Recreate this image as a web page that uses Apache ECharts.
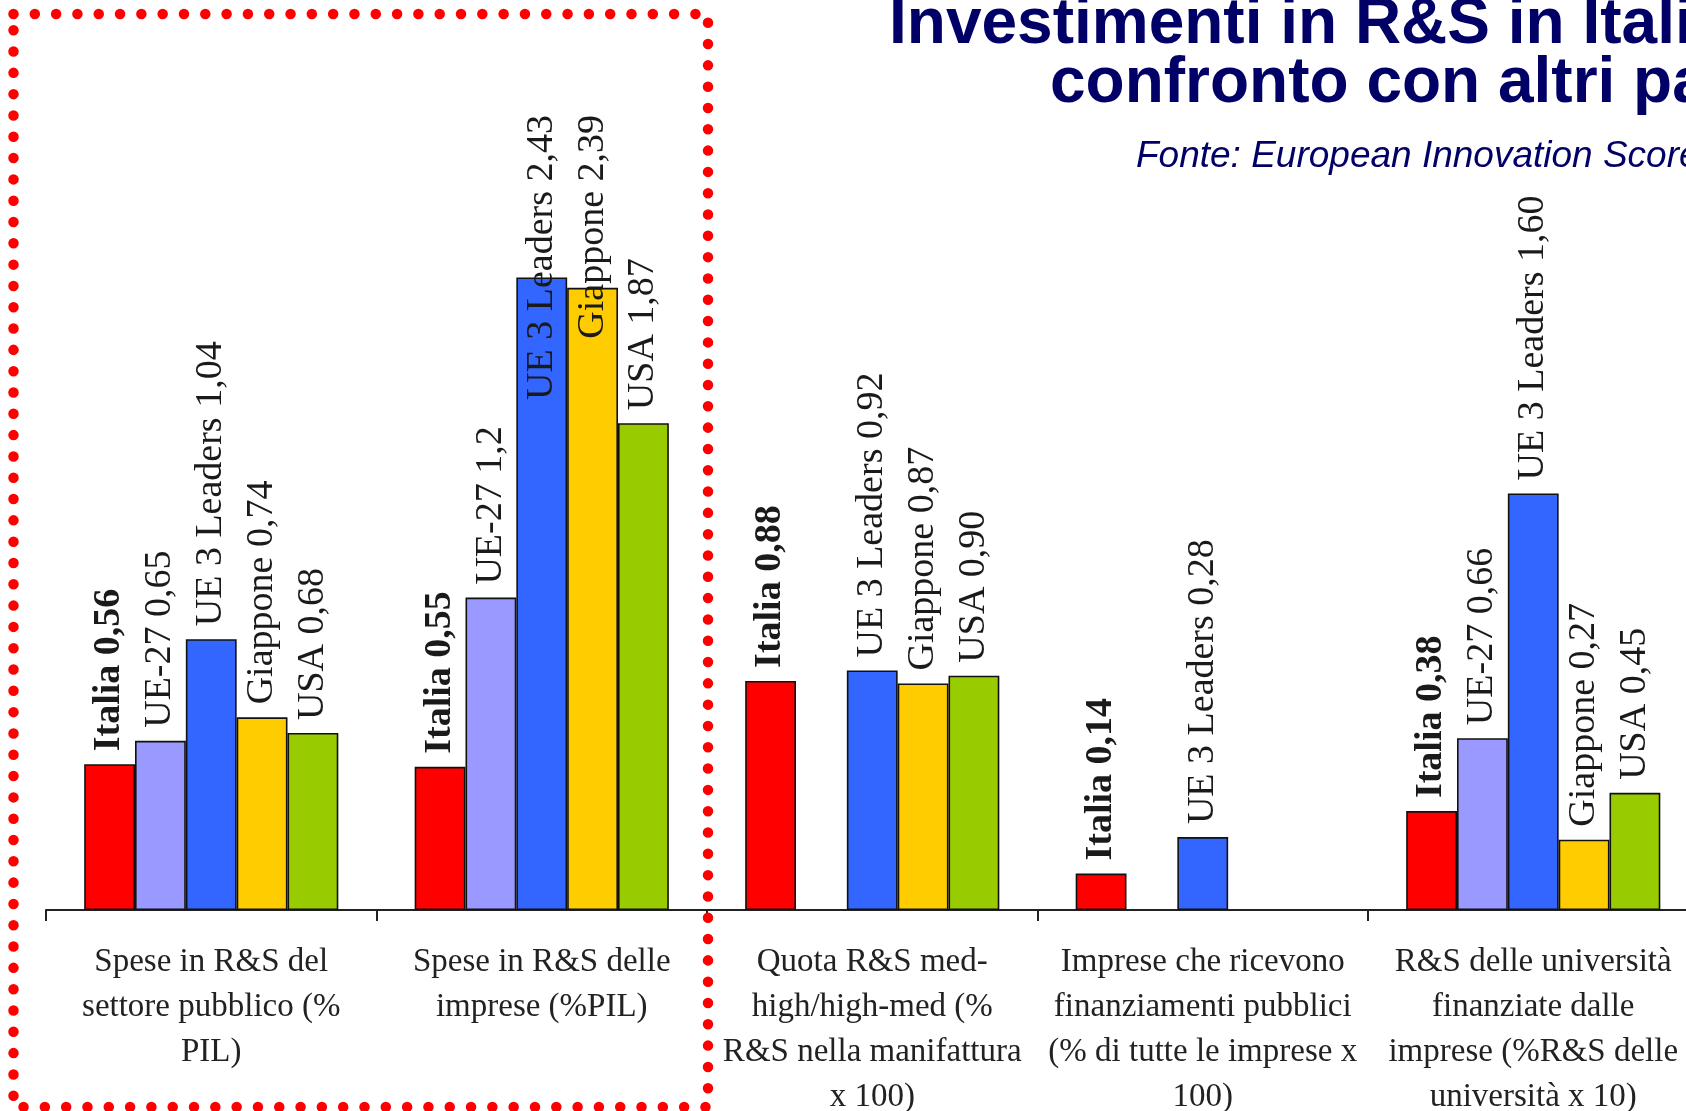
<!DOCTYPE html>
<html>
<head>
<meta charset="utf-8">
<script src="https://cdn.jsdelivr.net/npm/echarts@6/dist/echarts.min.js"></script>
<style>
html,body{margin:0;padding:0;background:#fff;}
#chart{width:1686px;height:1111px;}
</style>
</head>
<body>
<div id="chart"></div>
<script>
// ---- data ----
const categories = [
  'Spese in R&S del\nsettore pubblico (%\nPIL)',
  'Spese in R&S delle\nimprese (%PIL)',
  'Quota R&S med-\nhigh/high-med (%\nR&S nella manifattura\nx 100)',
  'Imprese che ricevono\nfinanziamenti pubblici\n(% di tutte le imprese x\n100)',
  'R&S delle università\nfinanziate dalle\nimprese (%R&S delle\nuniversità x 10)'
];
const seriesNames = ['Italia', 'UE-27', 'UE 3 Leaders', 'Giappone', 'USA'];
const italia   = ['0.56', '0.55', '0.88', '0.14', '0.38'];
const ue27     = ['0.65', '1.2',  null,   null,   '0.66'];
const ue3      = ['1.04', '2.43', '0.92', '0.28', '1.60'];
const giappone = ['0.74', '2.39', '0.87', null,   '0.27'];
const usa      = ['0.68', '1.87', '0.90', null,   '0.45'];
const titleLine1 = 'Investimenti in R&S in Italia:';
const titleLine2 = 'confronto con altri paesi';
const subtitle = 'Fonte: European Innovation Scoreboard';

// ---- styles ----
const colors = ['#FF0000', '#9999FF', '#3366FF', '#FFCC00', '#99CC00'];
const allData = [italia, ue27, ue3, giappone, usa];
const LABEL_TOP = 115;

const chart = echarts.init(document.getElementById('chart'), null, {renderer: 'canvas'});

const series = allData.map((d, i) => ({
  name: seriesNames[i],
  type: 'bar',
  data: d,
  barGap: '0%',
  barCategoryGap: '23.1%',
  itemStyle: { color: colors[i], borderColor: '#111', borderWidth: 1.6 },
  label: {
    show: true,
    position: 'top',
    distance: 13,
    rotate: 90,
    align: 'left',
    verticalAlign: 'middle',
    fontFamily: 'Liberation Serif',
    fontSize: 38,
    fontWeight: i === 0 ? 'bold' : 'normal',
    color: '#1a1a1a',
    formatter: p => p.seriesName + ' ' + String(p.data).replace('.', ',')
  },
  labelLayout: function (p) {
    const over = LABEL_TOP - p.labelRect.y;
    return over > 0 ? { dx: -over } : {};
  },
  emphasis: { disabled: true },
  animation: false
}));

const option = {
  backgroundColor: '#ffffff',
  animation: false,
  grid: { left: 46, right: -12.5, top: 129, bottom: 201, outerBoundsMode: 'none', containLabel: false },
  xAxis: {
    type: 'category',
    data: categories,
    axisLine: { show: true, lineStyle: { color: '#222', width: 2 } },
    axisTick: { show: true, length: 11, alignWithLabel: false, lineStyle: { color: '#222', width: 2 } },
    axisLabel: {
      interval: 0,
      margin: 30,
      fontFamily: 'Liberation Serif',
      fontSize: 33,
      lineHeight: 45,
      color: '#222',
      align: 'center'
    },
    splitLine: { show: false }
  },
  yAxis: {
    type: 'value', min: 0, max: 3, show: false,
    splitLine: { show: false }
  },
  series: series,
  graphic: [
    {
      type: 'text', z: 100,
      style: { text: titleLine1, x: 889, y: 25, font: 'bold 64px "Liberation Sans"', fill: '#000066', align: 'left', verticalAlign: 'middle' }
    },
    {
      type: 'text', z: 100,
      style: { text: titleLine2, x: 1050, y: 84, font: 'bold 64px "Liberation Sans"', fill: '#000066', align: 'left', verticalAlign: 'middle' }
    },
    {
      type: 'text', z: 100,
      style: { text: subtitle, x: 1136, y: 157, font: 'italic 37px "Liberation Sans"', fill: '#000066', align: 'left', verticalAlign: 'middle' }
    },
    {
      type: 'rect', z: 200, silent: true,
      shape: { x: 13.5, y: 14, width: 694.5, height: 1093 },
      style: { fill: 'none', stroke: '#FF0000', lineWidth: 10.5, lineDash: [0.01, 21.3], lineCap: 'round' }
    }
  ]
};
chart.setOption(option);
</script>
</body>
</html>
